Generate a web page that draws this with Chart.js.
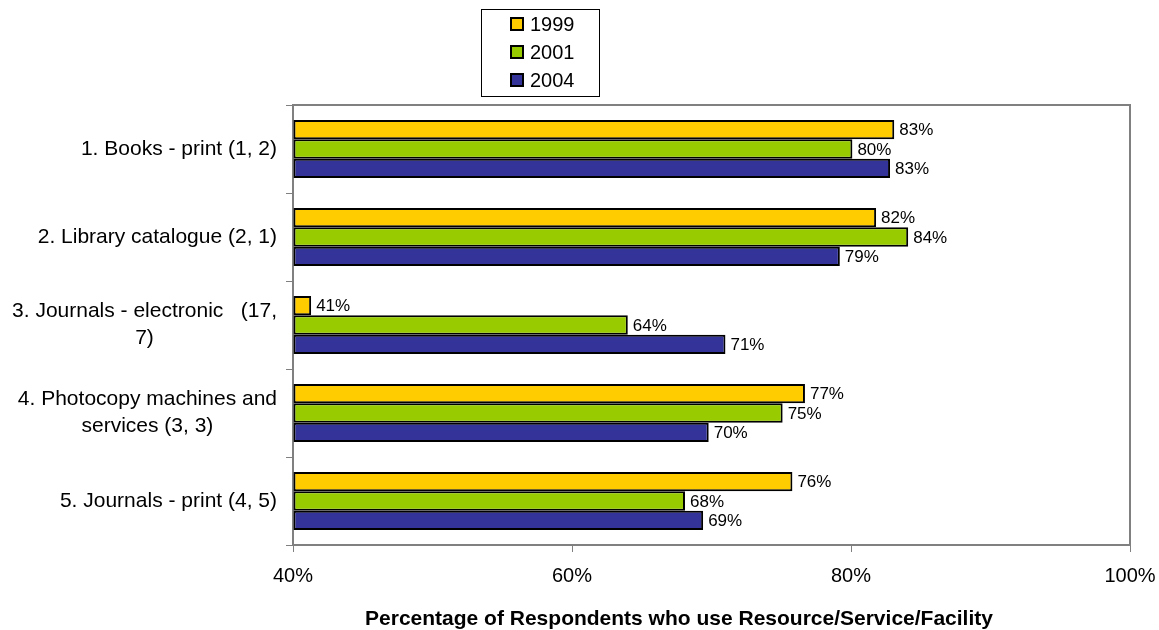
<!DOCTYPE html>
<html>
<head>
<meta charset="utf-8">
<script src="https://cdn.jsdelivr.net/npm/chart.js@4.4.1/dist/chart.umd.min.js"></script>
<style>
    body { margin: 0; background: #fff; }
    #wrap { width: 1159px; height: 630px; }
</style>
</head>
<body>
<div id="wrap"><canvas id="chart" width="1159" height="630"></canvas></div>
<script>
// categories, top to bottom
const categories = [
    ["1. Books - print (1, 2)"],
    ["2. Library catalogue (2, 1)"],
    ["3. Journals - electronic   (17,", "7)"],
    ["4. Photocopy machines and", "services (3, 3)"],
    ["5. Journals - print (4, 5)"]
];
const years = ["1999", "2001", "2004"];
const values1999 = [83.1, 81.8, 41.3, 76.7, 75.8];
const values2001 = [80.1, 84.1, 64.0, 75.1, 68.1];
const values2004 = [82.8, 79.2, 71.0, 69.8, 69.4];
const xTicks = [40, 60, 80, 100];
const xTitle = "Percentage of Respondents who use Resource/Service/Facility";

const FONT = "'Liberation Sans', Arial, sans-serif";

function makeSet(label, data, color) {
    return {
        label: label,
        data: data,
        base: xTicks[0],
        backgroundColor: color,
        borderColor: '#000',
        borderWidth: 2,
        borderSkipped: false,
        categoryPercentage: 0.66,
        barPercentage: 1.0
    };
}

// frame round the plot area
const frame = {
    id: 'frame',
    beforeDatasetsDraw(chart) {
        let a = chart.chartArea;
        let ctx = chart.ctx;
        ctx.save();
        ctx.strokeStyle = '#808080';
        ctx.lineWidth = 2;
        ctx.strokeRect(a.left, a.top, a.right - a.left, a.bottom - a.top);
        ctx.restore();
    }
};

// value labels right of each bar
const valueLabels = {
    id: 'valueLabels',
    afterDatasetsDraw(chart) {
        let ctx = chart.ctx;
        ctx.save();
        ctx.font = '17px ' + FONT;
        ctx.fillStyle = '#000';
        ctx.textAlign = 'left';
        ctx.textBaseline = 'middle';
        chart.data.datasets.forEach(function (ds, i) {
            chart.getDatasetMeta(i).data.forEach(function (bar, j) {
                ctx.fillText(Math.round(ds.data[j]) + '%', bar.x + 5, bar.y + 1);
            });
        });
        ctx.restore();
    }
};

// category labels, lines centred inside a right aligned block
const catLabels = {
    id: 'catLabels',
    afterDraw(chart) {
        let ctx = chart.ctx;
        let y = chart.scales.y;
        let right = chart.chartArea.left - 16;
        let lh = 27;
        ctx.save();
        ctx.font = '21px ' + FONT;
        ctx.fillStyle = '#000';
        ctx.textAlign = 'center';
        ctx.textBaseline = 'middle';
        categories.forEach(function (lines, i) {
            let w = Math.max.apply(null, lines.map(function (t) { return ctx.measureText(t).width; }));
            let cx = right - w / 2;
            let cy = y.getPixelForValue(i) - (lines.length - 1) * lh / 2;
            lines.forEach(function (t, k) {
                ctx.fillText(t, cx, cy + k * lh);
            });
        });
        ctx.restore();
    }
};

// axis title under the x ticks
const axisTitle = {
    id: 'axisTitle',
    afterDraw(chart) {
        let ctx = chart.ctx;
        ctx.save();
        ctx.font = 'bold 21px ' + FONT;
        ctx.fillStyle = '#000';
        ctx.textAlign = 'center';
        ctx.textBaseline = 'middle';
        ctx.fillText(xTitle, 679, 619);
        ctx.restore();
    }
};

// boxed legend, one entry per row
const boxLegend = {
    id: 'boxLegend',
    afterDraw(chart) {
        let ctx = chart.ctx;
        let x0 = 481, y0 = 9, w = 118, h = 87;
        ctx.save();
        ctx.fillStyle = '#fff';
        ctx.fillRect(x0, y0, w, h);
        ctx.strokeStyle = '#000';
        ctx.lineWidth = 1;
        ctx.strokeRect(x0 + 0.5, y0 + 0.5, w, h);
        ctx.font = '20px ' + FONT;
        ctx.textBaseline = 'middle';
        ctx.textAlign = 'left';
        chart.data.datasets.forEach(function (ds, i) {
            let cy = y0 + 15 + i * 28;
            ctx.fillStyle = ds.backgroundColor;
            ctx.fillRect(x0 + 30, cy - 6, 12, 12);
            ctx.strokeStyle = '#000';
            ctx.lineWidth = 2;
            ctx.strokeRect(x0 + 30, cy - 6, 12, 12);
            ctx.fillStyle = '#000';
            ctx.fillText(ds.label, x0 + 49, cy + 1);
        });
        ctx.restore();
    }
};

new Chart(document.getElementById('chart'), {
    type: 'bar',
    data: {
        labels: categories,
        datasets: [
            makeSet(years[0], values1999, '#FFCC00'),
            makeSet(years[1], values2001, '#99CC00'),
            makeSet(years[2], values2004, '#333399')
        ]
    },
    options: {
        indexAxis: 'y',
        responsive: false,
        animation: false,
        layout: { padding: { top: 105, right: 29, left: 0, bottom: 0 } },
        plugins: {
            legend: { display: false },
            tooltip: { enabled: false }
        },
        scales: {
            x: {
                min: xTicks[0],
                max: xTicks[xTicks.length - 1],
                afterBuildTicks: function (scale) {
                    scale.ticks = xTicks.map(function (v) { return { value: v }; });
                },
                afterFit: function (scale) {
                    scale.height = 85;
                    scale.paddingRight = 0;
                    scale.paddingLeft = 0;
                },
                grid: { drawOnChartArea: false, drawTicks: true, tickLength: 7, color: '#808080', lineWidth: 1 },
                border: { color: '#808080', width: 2 },
                ticks: {
                    padding: 12,
                    color: '#000',
                    font: { family: FONT, size: 20 },
                    callback: function (v) { return v + '%'; }
                }
            },
            y: {
                afterFit: function (scale) { scale.width = 293; },
                grid: { drawOnChartArea: false, drawTicks: true, tickLength: 7, color: '#808080', offset: true },
                border: { color: '#808080', width: 2 },
                ticks: { display: false }
            }
        }
    },
    plugins: [frame, valueLabels, catLabels, axisTitle, boxLegend]
});
</script>
</body>
</html>
